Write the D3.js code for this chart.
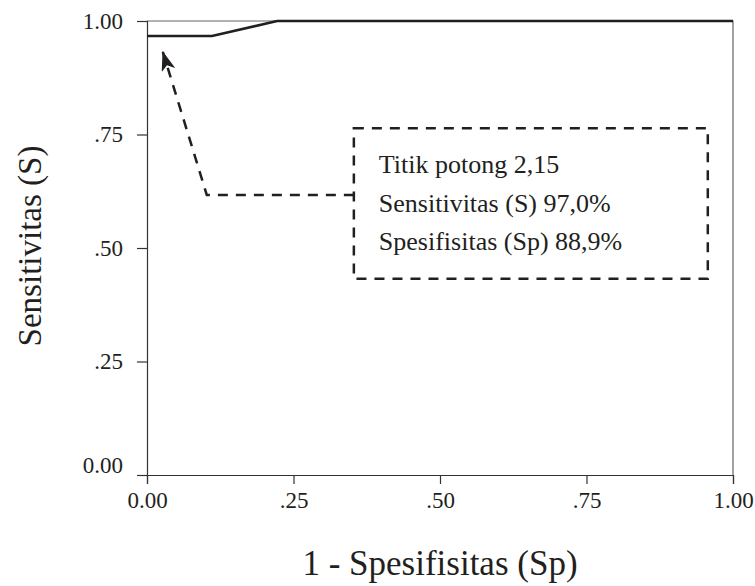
<!DOCTYPE html>
<html>
<head>
<meta charset="utf-8">
<script src="https://cdn.jsdelivr.net/npm/d3@7.9.0/dist/d3.min.js"></script>
<style>
  body { margin: 0; background: #fff; }
  svg text { font-family: "Liberation Serif", "DejaVu Serif", serif; fill: #231f20; }
</style>
</head>
<body>
<svg id="chart" width="755" height="586"></svg>
<script>
// ROC curve points (1 - specificity, sensitivity)
const fpr = [0, 0.111, 0.222, 1];
const tpr = [0.967, 0.967, 1, 1];

// Axis ticks
const tickValues = [0, 0.25, 0.5, 0.75, 1];
const tickLabels = ["0.00", ".25", ".50", ".75", "1.00"];

// Annotation text
const noteLines = ["Titik potong 2,15", "Sensitivitas (S) 97,0%", "Spesifisitas (Sp) 88,9%"];

const margin = { top: 21, right: 22, bottom: 111, left: 147 };
const width = 755 - margin.left - margin.right;
const height = 586 - margin.top - margin.bottom;

const svg = d3.select("#chart");
const g = svg.append("g").attr("transform", `translate(${margin.left},${margin.top})`);

const x = d3.scaleLinear().domain([0, 1]).range([0, width]);
const y = d3.scaleLinear().domain([0, 1]).range([height, 0]);

// Frame top and right (thin gray)
g.append("path")
  .attr("d", `M${x(0)},${y(1)}H${x(1)}V${y(0)}`)
  .attr("fill", "none")
  .attr("stroke", "#666")
  .attr("stroke-width", 1.2);

// Axes
const xAxis = d3.axisBottom(x).tickValues(tickValues).tickSize(9)
  .tickFormat((d, i) => tickLabels[i]);
const yAxis = d3.axisLeft(y).tickValues(tickValues).tickSize(10)
  .tickFormat((d, i) => tickLabels[i]);

const gx = g.append("g").attr("transform", `translate(0,${height})`).call(xAxis);
const gy = g.append("g").call(yAxis);

[gx, gy].forEach(a => {
  a.attr("font-size", null).attr("font-family", null);
  a.select(".domain").attr("stroke", "#333").attr("stroke-width", 1.2);
  a.selectAll(".tick line").attr("stroke", "#333").attr("stroke-width", 1.2);
  a.selectAll(".tick text")
    .style("font-size", "23px")
    .attr("fill", "#231f20");
});
gx.selectAll(".tick text").attr("dy", "1.0em").attr("y", 10);
gy.selectAll(".tick text").attr("x", -24).attr("dy", "0.32em");
// lift the 0.00 label on the y axis off the x axis
gy.selectAll(".tick").filter(d => d === 0).select("text").attr("dy", "-0.12em");

// ROC line
const line = d3.line().x((d, i) => x(fpr[i])).y(d => y(d));
g.append("path")
  .datum(tpr)
  .attr("d", line)
  .attr("fill", "none")
  .attr("stroke", "#231f20")
  .attr("stroke-width", 2.6)
  .attr("stroke-linejoin", "miter");

// Axis titles
svg.append("text")
  .attr("x", margin.left + width / 2)
  .attr("y", 575)
  .attr("text-anchor", "middle")
  .attr("font-size", 35)
  .text("1 - Spesifisitas (Sp)");

svg.append("text")
  .attr("transform", `translate(41,${margin.top + height / 2 - 2}) rotate(-90)`)
  .attr("text-anchor", "middle")
  .attr("font-size", 33)
  .text("Sensitivitas (S)");

// Annotation box (dashed)
const box = { x0: 0.353, x1: 0.957, y0: 0.432, y1: 0.764 };
const dash = "10,8";
g.append("rect")
  .attr("x", x(box.x0))
  .attr("y", y(box.y1))
  .attr("width", x(box.x1) - x(box.x0))
  .attr("height", y(box.y0) - y(box.y1))
  .attr("fill", "none")
  .attr("stroke", "#231f20")
  .attr("stroke-width", 2.5)
  .attr("stroke-dasharray", dash);

const note = g.append("text")
  .attr("x", x(box.x0) + 25)
  .attr("y", y(box.y1) + 45)
  .attr("font-size", 26);
noteLines.forEach((t, i) => {
  note.append("tspan")
    .attr("x", x(box.x0) + 25)
    .attr("dy", i === 0 ? 0 : 38.5)
    .text(t);
});

// Leader with arrow to the cut-off point
svg.append("defs").append("marker")
  .attr("id", "arrow")
  .attr("viewBox", "0 0 20 14")
  .attr("refX", 19).attr("refY", 7)
  .attr("markerWidth", 20).attr("markerHeight", 14)
  .attr("markerUnits", "userSpaceOnUse")
  .attr("orient", "auto")
  .append("path")
  .attr("d", "M0,0L20,7L0,14L5,7Z")
  .attr("fill", "#231f20");

const leader = [[box.x0, 0.617], [0.102, 0.617], [0.027, 0.932]];
g.append("path")
  .attr("d", d3.line().x(d => x(d[0])).y(d => y(d[1]))(leader))
  .attr("fill", "none")
  .attr("stroke", "#231f20")
  .attr("stroke-width", 2.5)
  .attr("stroke-dasharray", dash)
  .attr("marker-end", "url(#arrow)");
</script>
</body>
</html>
